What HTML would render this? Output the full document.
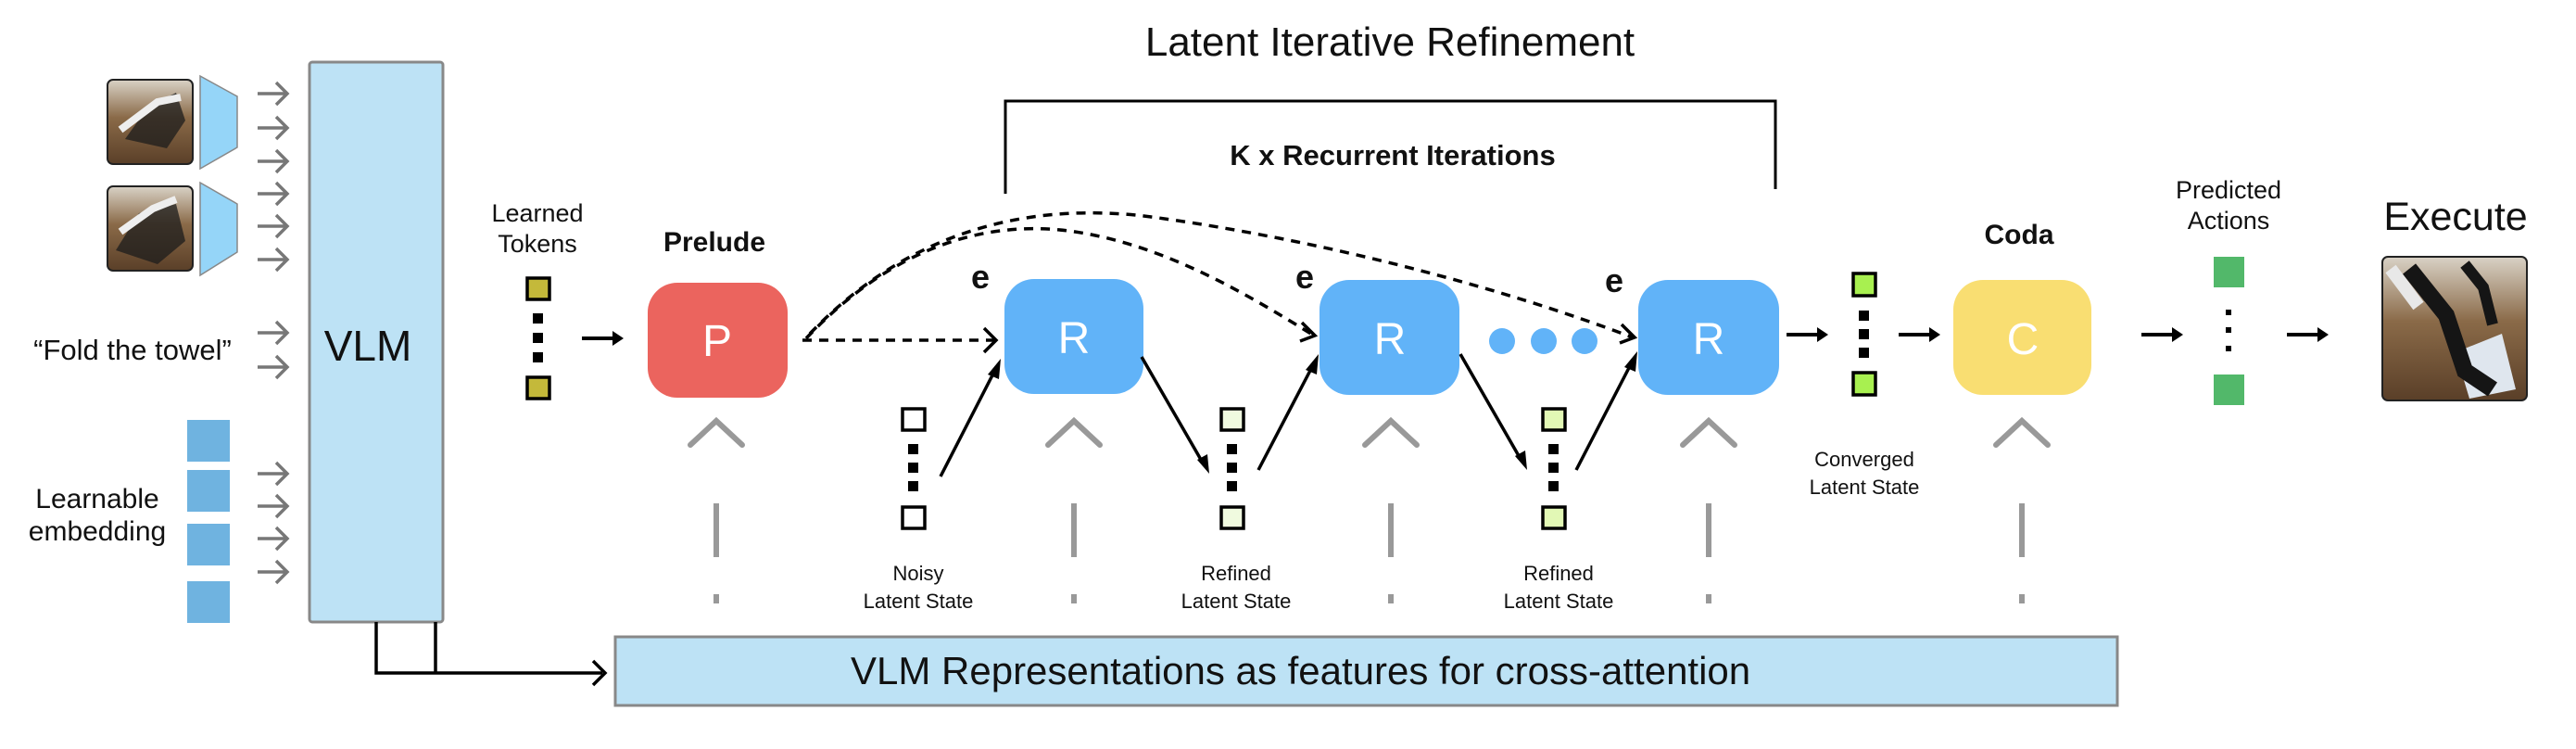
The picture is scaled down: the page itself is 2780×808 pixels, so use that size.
<!DOCTYPE html>
<html><head><meta charset="utf-8"><style>
html,body{margin:0;padding:0;background:#fff;}
svg{display:block;font-family:"Liberation Sans",sans-serif;}
</style></head><body>
<svg width="2780" height="808" viewBox="0 0 2780 808" xmlns="http://www.w3.org/2000/svg">
<defs>
<marker id="ah" markerWidth="10" markerHeight="10" refX="8" refY="5" orient="auto" markerUnits="userSpaceOnUse" viewBox="0 0 10 10">
</marker>
<linearGradient id="photo" x1="0" y1="0" x2="0" y2="1">
<stop offset="0" stop-color="#d9d2c6"/><stop offset="0.45" stop-color="#8a6a48"/><stop offset="1" stop-color="#5a3f28"/>
</linearGradient>
</defs>
<rect width="2780" height="808" fill="#fff"/>

<!-- input photos -->
<g>
<rect x="116" y="86" width="92" height="91" rx="6" fill="url(#photo)" stroke="#222" stroke-width="2"/>
<path d="M135 150 L160 115 L190 100 L200 130 L180 160 Z" fill="#1c1c1c" opacity="0.75"/>
<path d="M130 140 L170 110 L195 105" stroke="#eee" stroke-width="8" fill="none"/>
<rect x="116" y="201" width="92" height="91" rx="6" fill="url(#photo)" stroke="#222" stroke-width="2"/>
<path d="M125 270 L150 230 L190 220 L200 260 L170 285 Z" fill="#1c1c1c" opacity="0.75"/>
<path d="M130 250 L165 225 L190 215" stroke="#eee" stroke-width="8" fill="none"/>
<polygon points="216,82 256,104 256,159 216,182" fill="#95d5f8" stroke="#888" stroke-width="1.5"/>
<polygon points="216,197 256,220 256,272 216,297" fill="#95d5f8" stroke="#888" stroke-width="1.5"/>
</g>

<!-- gray input arrows -->
<g stroke="#777" stroke-width="3.5" fill="none">
<path d="M278 101h32M298 89l12 12-12 12"/>
<path d="M278 138h32M298 126l12 12-12 12"/>
<path d="M278 174h32M298 162l12 12-12 12"/>
<path d="M278 209h32M298 197l12 12-12 12"/>
<path d="M278 244h32M298 232l12 12-12 12"/>
<path d="M278 280h32M298 268l12 12-12 12"/>
<path d="M278 359h32M298 347l12 12-12 12"/>
<path d="M278 396h32M298 384l12 12-12 12"/>
<path d="M278 511h32M298 499l12 12-12 12"/>
<path d="M278 546h32M298 534l12 12-12 12"/>
<path d="M278 581h32M298 569l12 12-12 12"/>
<path d="M278 617h32M298 605l12 12-12 12"/>
</g>

<text x="143" y="388" font-size="31" text-anchor="middle" fill="#111">“Fold the towel”</text>
<text x="105" y="548" font-size="30" text-anchor="middle" fill="#111">Learnable</text>
<text x="105" y="583" font-size="30" text-anchor="middle" fill="#111">embedding</text>
<g fill="#6fb3e0">
<rect x="202" y="453" width="46" height="45"/>
<rect x="202" y="507" width="46" height="45"/>
<rect x="202" y="565" width="46" height="45"/>
<rect x="202" y="627" width="46" height="45"/>
</g>

<!-- VLM -->
<rect x="334" y="67" width="144" height="604" rx="3" fill="#bde2f5" stroke="#888" stroke-width="3"/>
<text x="397" y="389" font-size="46" text-anchor="middle" fill="#111">VLM</text>

<!-- VLM to bottom box -->
<path d="M406 671V726H470V671M470 726H650" stroke="#000" stroke-width="3.5" fill="none"/>
<path d="M640 713l13 13-13 13" stroke="#000" stroke-width="3.5" fill="none"/>

<!-- bottom box -->
<rect x="664" y="687" width="1621" height="74" fill="#bde2f5" stroke="#888" stroke-width="3"/>
<text x="918" y="738" font-size="42" fill="#111">VLM Representations as features for cross-attention</text>

<!-- title & bracket -->
<text x="1500" y="60" font-size="44" text-anchor="middle" fill="#111">Latent Iterative Refinement</text>
<path d="M1085 209V109H1916V204" stroke="#000" stroke-width="3" fill="none"/>
<text x="1503" y="178" font-size="31" font-weight="bold" text-anchor="middle" fill="#111">K x Recurrent Iterations</text>

<!-- learned tokens -->
<text x="580" y="239" font-size="27" text-anchor="middle" fill="#111">Learned</text>
<text x="580" y="272" font-size="27" text-anchor="middle" fill="#111">Tokens</text>
<rect x="569" y="300" width="24" height="23" fill="#c4b93a" stroke="#000" stroke-width="3.5"/>
<rect x="569" y="407" width="24" height="23" fill="#c4b93a" stroke="#000" stroke-width="3.5"/>
<g fill="#000"><rect x="575" y="338" width="11" height="11"/><rect x="575" y="359" width="11" height="11"/><rect x="575" y="380" width="11" height="11"/></g>
<path d="M628 365h36" stroke="#000" stroke-width="4"/><path d="M661 357l12 8-12 8z" fill="#000"/>

<!-- Prelude -->
<text x="771" y="271" font-size="30" font-weight="bold" text-anchor="middle" fill="#111">Prelude</text>
<rect x="699" y="305" width="151" height="124" rx="32" fill="#eb645e"/>
<text x="774" y="384" font-size="48" text-anchor="middle" fill="#fff">P</text>

<!-- R boxes -->
<rect x="1084" y="301" width="150" height="124" rx="32" fill="#61b3f8"/>
<text x="1159" y="381" font-size="48" text-anchor="middle" fill="#fff">R</text>
<rect x="1424" y="302" width="151" height="124" rx="32" fill="#61b3f8"/>
<text x="1500" y="382" font-size="48" text-anchor="middle" fill="#fff">R</text>
<rect x="1768" y="302" width="152" height="124" rx="32" fill="#61b3f8"/>
<text x="1844" y="382" font-size="48" text-anchor="middle" fill="#fff">R</text>

<g font-size="36" font-weight="bold" fill="#111" text-anchor="middle">
<text x="1058" y="311">e</text><text x="1408" y="311">e</text><text x="1742" y="315">e</text>
</g>
<g fill="#61b3f8"><ellipse cx="1621" cy="368" rx="14" ry="14"/><ellipse cx="1666" cy="368" rx="14" ry="14"/><ellipse cx="1710" cy="368" rx="14" ry="14"/></g>

<!-- dashed -->
<g stroke="#000" stroke-width="3.5" fill="none" stroke-dasharray="10 8">
<path d="M866 367H1075"/>
<path d="M870 365C960 270 1060 235 1160 250C1260 265 1350 320 1418 362"/>
<path d="M874 360C980 250 1110 215 1250 235C1430 260 1620 310 1762 364"/>
</g>
<g stroke="#000" stroke-width="3.5" fill="none">
<path d="M1062 354l13 13-13 13"/>
<path d="M1405 348l14 14-16 6"/>
<path d="M1750 350l14 14-16 6"/>
</g>

<!-- latent stacks -->
<g stroke="#000" stroke-width="3.5">
<rect x="974" y="441" width="24" height="23" fill="#fff"/>
<rect x="974" y="547" width="24" height="23" fill="#fff"/>
<rect x="1318" y="441" width="24" height="23" fill="#f0fadf"/>
<rect x="1318" y="547" width="24" height="23" fill="#f0fadf"/>
<rect x="1665" y="441" width="24" height="23" fill="#e2f8b5"/>
<rect x="1665" y="547" width="24" height="23" fill="#e2f8b5"/>
<rect x="2000" y="295" width="24" height="24" fill="#a8f050"/>
<rect x="2000" y="402" width="24" height="24" fill="#a8f050"/>
</g>
<g fill="#000">
<rect x="980" y="479" width="11" height="11"/><rect x="980" y="499" width="11" height="11"/><rect x="980" y="519" width="11" height="11"/>
<rect x="1324" y="479" width="11" height="11"/><rect x="1324" y="499" width="11" height="11"/><rect x="1324" y="519" width="11" height="11"/>
<rect x="1671" y="479" width="11" height="11"/><rect x="1671" y="499" width="11" height="11"/><rect x="1671" y="519" width="11" height="11"/>
<rect x="2006" y="335" width="11" height="11"/><rect x="2006" y="355" width="11" height="11"/><rect x="2006" y="375" width="11" height="11"/>
</g>

<!-- solid zigzag arrows -->
<g stroke="#000" stroke-width="3.5" fill="none">
<path d="M1015 514L1075 397"/>
<path d="M1232 385L1299 501"/>
<path d="M1358 507L1418 392"/>
<path d="M1576 382L1642 497"/>
<path d="M1701 507L1762 389"/>
</g>
<g fill="#000">
<polygon points="1080,387 1066,404 1078,409"/>
<polygon points="1305,511 1292,496 1303,490"/>
<polygon points="1423,382 1409,399 1421,404"/>
<polygon points="1648,507 1635,492 1646,486"/>
<polygon points="1767,379 1753,396 1765,401"/>
</g>

<!-- carets and gray lines -->
<g stroke="#999" stroke-width="6" fill="none" stroke-linecap="round">
<path d="M745 480L773 454L801 480"/>
<path d="M1131 480L1159 454L1187 480"/>
<path d="M1473 480L1501 454L1529 480"/>
<path d="M1816 480L1844 454L1872 480"/>
<path d="M2154 480L2182 454L2210 480"/>
</g>
<g fill="#999">
<rect x="770" y="543" width="6" height="58"/><rect x="770" y="641" width="6" height="10"/>
<rect x="1156" y="543" width="6" height="58"/><rect x="1156" y="641" width="6" height="10"/>
<rect x="1498" y="543" width="6" height="58"/><rect x="1498" y="641" width="6" height="10"/>
<rect x="1841" y="543" width="6" height="58"/><rect x="1841" y="641" width="6" height="10"/>
<rect x="2179" y="543" width="6" height="58"/><rect x="2179" y="641" width="6" height="10"/>
</g>

<!-- state labels -->
<g font-size="22" text-anchor="middle" fill="#111">
<text x="991" y="626">Noisy</text><text x="991" y="656">Latent State</text>
<text x="1334" y="626">Refined</text><text x="1334" y="656">Latent State</text>
<text x="1682" y="626">Refined</text><text x="1682" y="656">Latent State</text>
<text x="2012" y="503">Converged</text><text x="2012" y="533">Latent State</text>
</g>

<!-- right side arrows -->
<g stroke="#000" stroke-width="4">
<path d="M1928 361h35"/><path d="M2049 361h35"/><path d="M2311 361h35"/><path d="M2468 361h35"/>
</g>
<g fill="#000">
<polygon points="1961,353 1973,361 1961,369"/><polygon points="2082,353 2094,361 2082,369"/>
<polygon points="2344,353 2356,361 2344,369"/><polygon points="2501,353 2513,361 2501,369"/>
</g>

<!-- Coda -->
<text x="2179" y="263" font-size="30" font-weight="bold" text-anchor="middle" fill="#111">Coda</text>
<rect x="2108" y="302" width="149" height="124" rx="32" fill="#f9de72"/>
<text x="2183" y="382" font-size="48" text-anchor="middle" fill="#fff">C</text>

<!-- predicted actions -->
<text x="2405" y="214" font-size="27" text-anchor="middle" fill="#111">Predicted</text>
<text x="2405" y="247" font-size="27" text-anchor="middle" fill="#111">Actions</text>
<rect x="2389" y="277" width="33" height="33" fill="#52b86a"/>
<rect x="2389" y="404" width="33" height="33" fill="#52b86a"/>
<g fill="#000"><rect x="2402" y="334" width="6" height="6"/><rect x="2402" y="353" width="6" height="6"/><rect x="2402" y="373" width="6" height="6"/></g>

<!-- Execute -->
<text x="2650" y="248" font-size="43" text-anchor="middle" fill="#111">Execute</text>
<rect x="2571" y="277" width="156" height="155" rx="6" fill="url(#photo)" stroke="#222" stroke-width="2"/>
<polygon points="2650,380 2700,360 2715,420 2665,430" fill="#dfe6ee"/>
<path d="M2600 290L2640 340L2660 400L2690 420" stroke="#151515" stroke-width="18" fill="none"/>
<path d="M2660 285L2680 310L2690 350" stroke="#151515" stroke-width="12" fill="none"/>
<path d="M2580 290L2610 330" stroke="#e8e8e8" stroke-width="14" fill="none"/>
</svg>
</body></html>
